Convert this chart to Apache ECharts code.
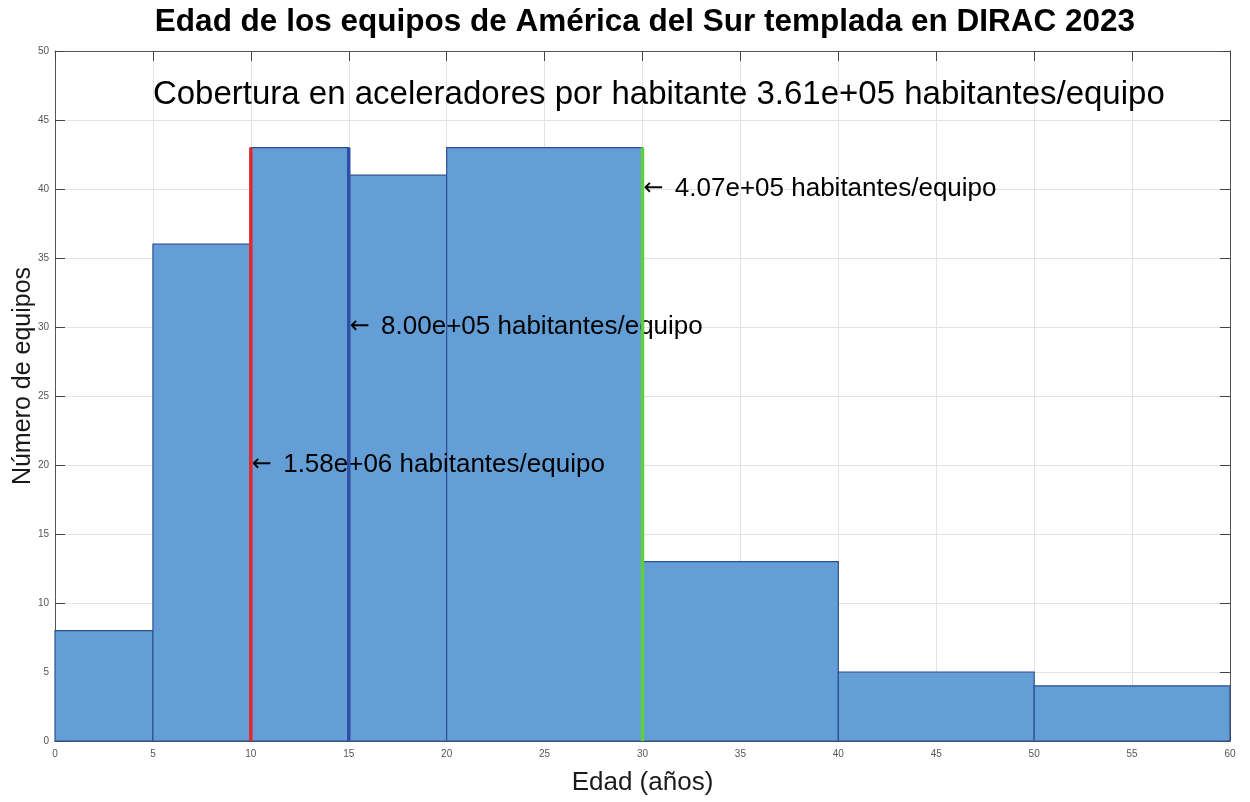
<!DOCTYPE html>
<html>
<head>
<meta charset="utf-8">
<script src="https://cdn.jsdelivr.net/npm/echarts@6/dist/echarts.min.js"></script>
<style>html,body{margin:0;padding:0;background:#fff;}#c{width:1250px;height:802px;}</style>
</head>
<body>
<div id="c"></div>
<script>
// ---- data ----
const binEdges = [0, 5, 10, 15, 20, 30, 40, 50, 60];
const counts = [8, 36, 43, 41, 43, 13, 5, 4];
const markerX = [10, 15, 30];
const markerTop = [43, 43, 43];
const markerColors = ['#e3262b', '#2f4fa6', '#5fcf3f'];
const annotationPos = [[10, 20], [15, 30], [30, 40]];
const annotationText = ['1.58e+06 habitantes/equipo', '8.00e+05 habitantes/equipo', '4.07e+05 habitantes/equipo'];
const coverageText = 'Cobertura en aceleradores por habitante 3.61e+05 habitantes/equipo';
const coveragePos = [5, 46.8];
const titleText = 'Edad de los equipos de América del Sur templada en DIRAC 2023';
const xName = 'Edad (años)';
const yName = 'Número de equipos';

const histData = counts.map((c, i) => [binEdges[i], binEdges[i + 1], c]);
const FONT = '"Liberation Sans", Arial, Helvetica, sans-serif';

const chart = echarts.init(document.getElementById('c'), null, {renderer: 'canvas'});

const series = [{
  type: 'custom',
  xAxisIndex: 0, yAxisIndex: 0,
  data: histData,
  encode: {x: [0, 1], y: 2},
  z: 1,
  renderItem: function (params, api) {
    const p0 = api.coord([api.value(0), api.value(2)]);
    const p1 = api.coord([api.value(1), 0]);
    return {
      type: 'rect',
      shape: {x: p0[0], y: p0[1], width: p1[0] - p0[0], height: p1[1] - p0[1]},
      style: {fill: '#639fd6', stroke: '#2f4f94', lineWidth: 1.2}
    };
  }
}];

markerX.forEach((x, i) => {
  series.push({
    type: 'line',
    data: [[x, 0], [x, markerTop[i]]],
    symbol: 'none',
    lineStyle: {color: markerColors[i], width: 3.5, opacity: 1},
    z: 10,
    clip: false,
    silent: true
  });
});

series.push({
  type: 'scatter',
  data: annotationPos.map((p, i) => ({value: p, name: annotationText[i]})),
  symbolSize: 0,
  itemStyle: {opacity: 1},
  z: 4,
  label: {
    show: true, position: 'right', distance: 1,
    formatter: p => '{arr|\u2190} ' + p.name,
    fontFamily: FONT, fontSize: 26, color: '#000', opacity: 1,
    rich: {arr: {fontFamily: '"DejaVu Sans", sans-serif', fontSize: 24, color: '#000', padding: [0, 4, 0, 0]}}
  },
  silent: true
});

series.push({
  type: 'scatter',
  data: [{value: coveragePos, name: coverageText}],
  symbolSize: 0,
  itemStyle: {opacity: 1},
  z: 4,
  label: {
    show: true, position: 'right', distance: 0,
    formatter: p => p.name,
    fontFamily: FONT, fontSize: 33, color: '#000', opacity: 1
  },
  silent: true
});

const axisCommon = {
  axisLine: {show: true, onZero: false, lineStyle: {color: '#555', width: 1}},
  axisTick: {show: true, inside: true, length: 10, lineStyle: {color: '#444'}}
};

chart.setOption({
  animation: false,
  backgroundColor: '#fff',
  title: {
    text: titleText, left: 640, top: 1, textAlign: 'center',
    textStyle: {fontFamily: FONT, fontSize: 31.5, fontWeight: 'bold', color: '#000'}
  },
  grid: {left: 55, right: 20, top: 51, bottom: 61, containLabel: false, outerBoundsMode: 'none'},
  xAxis: [{
    type: 'value', min: 0, max: 60, interval: 5, position: 'bottom',
    ...axisCommon,
    axisLabel: {fontFamily: FONT, fontSize: 10, color: '#555', margin: 8},
    splitLine: {show: true, lineStyle: {color: '#e3e3e3', width: 1}},
    name: xName, nameLocation: 'middle', nameGap: 29,
    nameTextStyle: {fontFamily: FONT, fontSize: 26, color: '#1a1a1a'}
  }, {
    type: 'value', min: 0, max: 60, interval: 5, position: 'top',
    ...axisCommon,
    axisLabel: {show: false}, splitLine: {show: false}
  }],
  yAxis: [{
    type: 'value', min: 0, max: 50, interval: 5, position: 'left',
    ...axisCommon,
    axisLabel: {fontFamily: FONT, fontSize: 10, color: '#555', margin: 6},
    splitLine: {show: true, lineStyle: {color: '#e3e3e3', width: 1}},
    name: yName, nameLocation: 'middle', nameGap: 19, nameMoveOverlap: false,
    nameTextStyle: {fontFamily: FONT, fontSize: 25, color: '#1a1a1a', padding: [0, 0, 0, 40]}
  }, {
    type: 'value', min: 0, max: 50, interval: 5, position: 'right',
    ...axisCommon,
    axisLabel: {show: false}, splitLine: {show: false}
  }],
  series: series
});
</script>
</body>
</html>
